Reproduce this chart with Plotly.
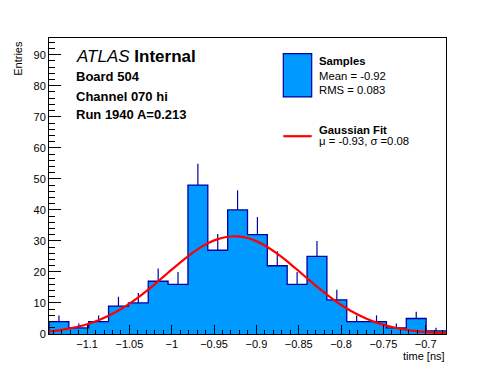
import plotly.graph_objects as go

# ---- data ----
x_min = -1.145
x_max = -0.676
n_bins = 20
counts = [4, 2, 4, 9, 10, 17, 16, 48, 27, 40, 32, 22, 16, 25, 11, 4, 4, 2, 5, 1]
errors = [2.0, 1.4, 2.0, 3.0, 3.2, 4.1, 4.0, 6.9, 5.2, 6.3, 5.7, 4.7, 4.0, 5.0, 3.3, 2.0, 2.0, 1.4, 2.2, 1.0]
fit_y = [0.81, 1.19, 1.71, 2.40, 3.30, 4.44, 5.85, 7.55, 9.54, 11.81, 14.31, 16.99, 19.74,
         22.47, 25.05, 27.34, 29.22, 30.58, 31.35, 31.47, 30.93, 29.77, 28.06, 25.90, 23.41,
         20.72, 17.96, 15.25, 12.68, 10.32, 8.22, 6.42, 4.91, 3.67, 2.69, 1.93, 1.36, 0.94,
         0.63, 0.42, 0.27]
y_max = 95.4

header_lines = ["<i>ATLAS</i> <b>Internal</b>", "<b>Board 504</b>", "<b>Channel 070 hi</b>",
                "<b>Run 1940 A=0.213</b>"]
legend_hist = ["<b>Samples</b>", "Mean = -0.92", "RMS = 0.083"]
legend_fit = ["<b>Gaussian Fit</b>", "μ = -0.93, σ =0.08"]

FILL = "#0099ff"
EDGE = "#0000a0"
FONT = "Liberation Sans, Arial, Helvetica, sans-serif"

binw = (x_max - x_min) / n_bins
edges = [x_min + i * binw for i in range(n_bins + 1)]
centers = [x_min + (i + 0.5) * binw for i in range(n_bins)]
fit_x = [x_min + i * binw / 2 for i in range(len(fit_y))]

W, H = 496, 372
OFF = 8  # default page body margin
L, R, T, B = 49, 446, 37.7, 334


def px(x):
    return (x - L) / (R - L)


def py(y):
    return (B - y) / (B - T)


fig = go.Figure()
fig.add_trace(go.Bar(x=centers, y=counts, width=binw, marker=dict(color=FILL, line=dict(width=0)),
                     showlegend=False, hoverinfo="skip"))
fig.add_trace(go.Scatter(x=[edges[0]] + edges, y=[0] + counts + [counts[-1]], mode="lines",
                         line=dict(color=EDGE, width=1.3, shape="hv"), showlegend=False))
fig.add_trace(go.Scatter(x=centers, y=counts, mode="markers", marker=dict(size=1, opacity=0),
                         error_y=dict(type="data", symmetric=False, array=errors,
                                      arrayminus=[0] * n_bins, width=0, thickness=1.2, color=EDGE),
                         showlegend=False))
fig.add_trace(go.Scatter(x=fit_x, y=fit_y, mode="lines", line=dict(color="#ff0000", width=2.2, shape="spline"),
                         showlegend=False))

ann = []
hy = [56.7, 76, 96, 114.5]
hs = [17, 13, 13, 13]
for t, yy, s in zip(header_lines, hy, hs):
    ann.append(dict(text=t, x=px(74), y=py(yy), xref="paper", yref="paper", xanchor="left",
                    yanchor="middle", showarrow=False, font=dict(size=s, color="black", family=FONT)))
for t, yy in zip(legend_hist, [61, 75.6, 89.7]):
    ann.append(dict(text=t, x=px(316.5), y=py(yy), xref="paper", yref="paper", xanchor="left",
                    yanchor="middle", showarrow=False, font=dict(size=11.3, color="black", family=FONT)))
for t, yy in zip(legend_fit, [129.7, 141]):
    ann.append(dict(text=t, x=px(316.5), y=py(yy), xref="paper", yref="paper", xanchor="left",
                    yanchor="middle", showarrow=False, font=dict(size=11.3, color="black", family=FONT)))
ann.append(dict(text="Entries", textangle=-90, x=px(18), y=py(39), xref="paper", yref="paper",
                xanchor="center", yanchor="top", showarrow=False, font=dict(size=11, color="black", family=FONT)))
ann.append(dict(text="time [ns]", x=px(447), y=py(356), xref="paper", yref="paper",
                xanchor="right", yanchor="middle", showarrow=False, font=dict(size=11, color="black", family=FONT)))

shapes = [
    dict(type="rect", xref="paper", yref="paper", x0=px(283.3), x1=px(311.7), y0=py(96.7), y1=py(53.3),
         fillcolor=FILL, line=dict(color=EDGE, width=1.2)),
    dict(type="line", xref="paper", yref="paper", x0=px(283.3), x1=px(311.7), y0=py(136), y1=py(136),
         line=dict(color="#ff0000", width=2.2)),
]

fig.update_layout(
    width=W - OFF, height=H - OFF,
    margin=dict(l=L - OFF, r=W - R, t=T - OFF, b=H - B, pad=0),
    paper_bgcolor="white", plot_bgcolor="white",
    bargap=0, barmode="overlay",
    font=dict(family=FONT, size=11, color="black"),
    annotations=ann, shapes=shapes,
    xaxis=dict(range=[x_min, x_max], tick0=-1, dtick=0.05, ticks="inside", ticklen=9, tickwidth=1,
               tickcolor="black", showline=True, mirror=True, linecolor="black", linewidth=1,
               showgrid=False, zeroline=False, tickfont=dict(size=11),
               minor=dict(dtick=0.01, tick0=-1, ticks="inside", ticklen=4.5, tickcolor="black", showgrid=False)),
    yaxis=dict(range=[0, y_max], tick0=0, dtick=10, ticks="inside", ticklen=12, tickwidth=1,
               tickcolor="black", showline=True, mirror=True, linecolor="black", linewidth=1,
               showgrid=False, zeroline=False, tickfont=dict(size=11),
               minor=dict(dtick=2, tick0=0, ticks="inside", ticklen=6, tickcolor="black", showgrid=False)),
)

fig.write_html("out.html")
